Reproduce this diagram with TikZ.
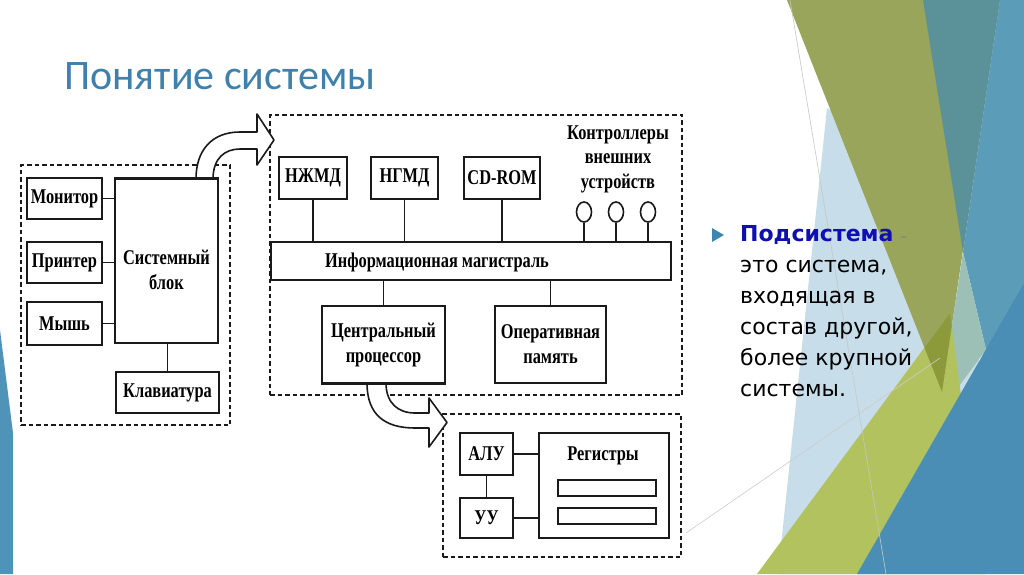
\documentclass[tikz,border=0pt]{standalone}
\usepackage{fontspec}
\usetikzlibrary{shapes.geometric}
\newfontfamily\dfont[FakeStretch=0.78]{Liberation Serif}
\newfontfamily\tfont{Carlito}
\newfontfamily\bfont{DejaVu Sans}
\definecolor{lc}{HTML}{1A1A1A}
\definecolor{titlec}{HTML}{3F80AC}
\definecolor{paleb}{HTML}{C7DDEA}
\definecolor{olive}{HTML}{98A55B}
\definecolor{darkolive}{HTML}{8D9A3C}
\definecolor{teal}{HTML}{5B9199}
\definecolor{rblue}{HTML}{5B9CB9}
\definecolor{sage}{HTML}{9DC0B6}
\definecolor{yg}{HTML}{B2C25F}
\definecolor{bigblue}{HTML}{4A8EB6}
\definecolor{lblue}{HTML}{4F93B8}
\definecolor{subc}{HTML}{1010B0}
\definecolor{bulc}{HTML}{3D86AE}
\tikzset{
  bx/.style={draw=lc, line width=1.7pt, fill=white, inner sep=0pt, align=center,
    font=\dfont\bfseries\fontsize{21}{25}\selectfont},
  txt/.style={inner sep=0pt, align=center, font=\dfont\bfseries\fontsize{21}{24.5}\selectfont},
  dbox/.style={draw=lc, line width=1.3pt, dash pattern=on 4.5pt off 3pt, inner sep=0pt},
  conn/.style={draw=lc, line width=1.6pt},
  bigarrow/.style={draw=lc, line width=1.6pt, fill=white, line join=round},
  body/.style={inner sep=0pt, anchor=base west, font=\bfont\fontsize{22}{31}\selectfont}
}
\begin{document}
\begin{tikzpicture}[x=1pt,y=-1pt]
\useasboundingbox (0,0) rectangle (1024,574);
\fill[white] (0,0) rectangle (1024,574);
% decorative background
\fill[lblue] (0,330) -- (13,433) -- (13,574) -- (0,574) -- cycle;
\fill[paleb] (827,108) -- (900,150) -- (990,390) -- (880,574) -- (778,574) -- cycle;
\fill[olive] (787,0) -- (1000,0) -- (942,392) -- cycle;
\fill[teal] (923,0) -- (1000,0) -- (963,252) -- cycle;
\fill[rblue] (1000,0) -- (1024,0) -- (1024,290) -- (986,350) -- (963,252) -- cycle;
\fill[sage] (963,252) -- (986,350) -- (950,398) -- (942,392) -- cycle;
\fill[yg] (757,574) -- (950,313) -- (985,574) -- cycle;
\begin{scope}
  \clip (787,0) -- (1000,0) -- (942,392) -- cycle;
  \fill[darkolive] (757,574) -- (950,313) -- (985,574) -- cycle;
\end{scope}
\fill[bigblue] (857,574) -- (1024,283) -- (1024,574) -- cycle;
\draw[gray!45, line width=0.6pt] (790,0) -- (886,574);
\draw[gray!40, line width=0.6pt] (686,533) -- (940,358);

% title
\node[inner sep=0pt, anchor=base west, text=titlec, font=\tfont\fontsize{42}{46}\selectfont] (title) at (64,89) {Понятие системы};

% right text
\fill[bulc] (712,228) -- (712,242) -- (724,235) -- cycle;
\node[body] (t1) at (740,241.5) {\textcolor{subc}{\bfseries Подсистема} \textcolor{gray}{\fontsize{14}{14}\selectfont –}};
\node[body] (t2) at (740,272.5) {это система,};
\node[body] (t3) at (740,303.5) {входящая в};
\node[body] (t4) at (740,334.5) {состав другой,};
\node[body] (t5) at (740,365.5) {более крупной};
\node[body] (t6) at (740,396.5) {системы.};

% dashed frames
\node[dbox, minimum width=209pt, minimum height=260pt] (d1) at (125.5,295) {};
\node[dbox, minimum width=412pt, minimum height=280pt] (d2) at (476,255) {};
\node[dbox, minimum width=238pt, minimum height=143pt] (d3) at (562,485.5) {};

% left block
\node[bx, minimum width=75pt, minimum height=41pt] (mon) at (64.5,198.5) {Монитор};
\node[bx, minimum width=75pt, minimum height=41pt] (prn) at (64.5,262.5) {Принтер};
\node[bx, minimum width=75pt, minimum height=43pt] (mys) at (64.5,323.5) {Мышь};
\node[bx, minimum width=103pt, minimum height=164pt] (sb) at (166.5,261) {};
\node[txt] (sbt) at (166.5,270) {Системный\\блок};
\node[bx, minimum width=103pt, minimum height=41pt] (kl) at (167.5,392.5) {Клавиатура};
\draw[conn] (mon.east) -- (mon.east -| sb.west);
\draw[conn] (prn.east) -- (prn.east -| sb.west);
\draw[conn] (mys.east) -- (mys.east -| sb.west);
\draw[conn] (kl.north) -- (kl.north |- sb.south);

% middle block
\node[bx, minimum width=68pt, minimum height=42pt] (nzh) at (313,178) {НЖМД};
\node[bx, minimum width=67pt, minimum height=42pt] (ngm) at (404.5,178) {НГМД};
\node[bx, minimum width=76pt, minimum height=42pt] (cd) at (502,178) {CD-ROM};
\node[txt] (ctl) at (618,159) {Контроллеры\\внешних\\устройств};
\node[draw=lc, line width=1.6pt, ellipse, inner sep=0pt, minimum width=15pt, minimum height=20pt] (c1) at (584,212) {};
\node[draw=lc, line width=1.6pt, ellipse, inner sep=0pt, minimum width=15pt, minimum height=20pt] (c2) at (616,212) {};
\node[draw=lc, line width=1.6pt, ellipse, inner sep=0pt, minimum width=15pt, minimum height=20pt] (c3) at (648,212) {};
\node[bx, minimum width=400pt, minimum height=38pt] (bus) at (471,261) {};
\node[txt] (bust) at (437,262) {Информационная магистраль};
\node[bx, minimum width=123pt, minimum height=77pt] (cpu) at (383.5,344.5) {Центральный\\процессор};
\node[bx, minimum width=111pt, minimum height=77pt] (ram) at (550.5,344.5) {Оперативная\\память};
\foreach \n in {nzh,ngm,cd,c1,c2,c3} \draw[conn] (\n.south) -- (\n.south |- bus.north);
\draw[conn] (cpu.north) -- (cpu.north |- bus.south);
\draw[conn] (ram.north) -- (ram.north |- bus.south);

% lower block
\node[bx, minimum width=53pt, minimum height=42pt] (alu) at (486.5,454) {АЛУ};
\node[bx, minimum width=53pt, minimum height=40pt] (uu) at (486.5,518) {УУ};
\node[bx, minimum width=130pt, minimum height=105pt] (reg) at (604,485.5) {};
\node[txt] (regt) at (603,456) {Регистры};
\node[bx, minimum width=98pt, minimum height=16pt] (r1) at (607,488) {};
\node[bx, minimum width=98pt, minimum height=16pt] (r2) at (607,516) {};
\draw[conn] (alu.south) -- (uu.north);
\draw[conn] (alu.east) -- (alu.east -| reg.west);
\draw[conn] (uu.east) -- (uu.east -| reg.west);

% big curved arrows
\draw[bigarrow] (196,179) .. controls (196,150) and (212,132) .. (240,132) -- (257,132) -- (257,114) -- (274,140) -- (257,165) -- (257,149) -- (240,149) .. controls (225,149) and (213,158) .. (213,179) -- cycle;
\draw[conn] (sb.north west) -- (sb.north east);
\draw[bigarrow] (367,383) .. controls (367,415) and (385,428) .. (415,428) -- (429,428) -- (429,447) -- (447,422.5) -- (429,398) -- (429,413) -- (415,413) .. controls (398,413) and (386,403) .. (386,383) -- cycle;
\draw[conn] (cpu.south west) -- (cpu.south east);
\end{tikzpicture}
\end{document}
